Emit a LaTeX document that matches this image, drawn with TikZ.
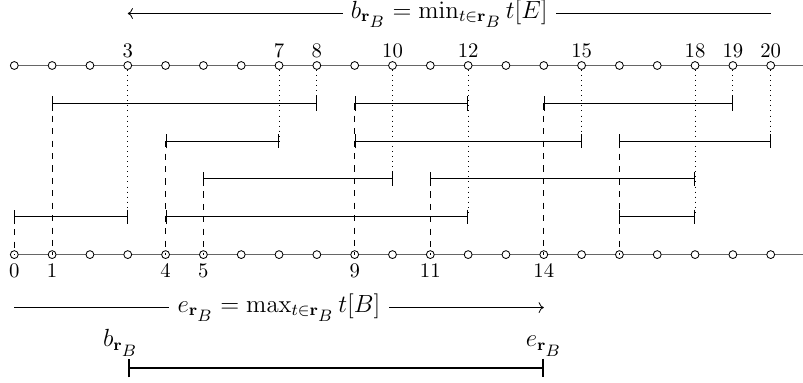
\documentclass[tikz,border=0pt]{standalone}
\usepackage{amsmath,amssymb}
\usetikzlibrary{arrows.meta}

\newcommand{\rB}{\mathbf{r}_{\scriptstyle B}}

\begin{document}
\begin{tikzpicture}[
    x=0.642cm, y=0.642cm,
    tick/.style={circle, draw, fill=white, inner sep=0pt, minimum size=3.8pt, line width=0.4pt},
    timeline/.style={draw=black!60, line width=0.8pt},
    span/.style={{Bar[width=7pt]}-{Bar[width=7pt]}, line width=0.45pt},
    drop/.style={dashed, line width=0.45pt},
    rise/.style={dotted, line width=0.45pt},
    numtop/.style={anchor=south, inner sep=1.5pt},
    numbot/.style={anchor=north, inner sep=2pt},
    bound/.style={anchor=south, inner sep=1pt, font=\large},
    rule/.style={fill=white, inner sep=4pt, font=\large},
    >=To
]
\useasboundingbox (-0.378,1.732) rectangle (20.854,-8.369);

% Time lines (top and bottom)
\coordinate (tl) at (0,0);
\coordinate (tr) at (20.9,0);
\coordinate (bl) at (0,-5);
\coordinate (br) at (20.9,-5);
\draw[timeline] (tl) -- (tr);
\draw[timeline] (bl) -- (br);

\foreach \i in {0,...,20} {
    \node[tick] (t\i) at (\i,0) {};
    \node[tick] (b\i) at (\i,-5) {};
}

% Time labels
\foreach \i in {3,7,8,10,12,15,18,19,20}
    \node[numtop] (lt\i) at (t\i.north) {\i};
\foreach \i in {0,1,4,5,9,11,14}
    \node[numbot] (lb\i) at (b\i.south) {\i};

% Intervals (begin/end/row)
\foreach \a/\b/\r [count=\i] in {1/8/1, 9/12/1, 14/19/1,
                                 4/7/2, 9/15/2, 16/20/2,
                                 5/10/3, 11/18/3,
                                 0/3/4, 4/12/4, 16/18/4} {
    \coordinate (s\i) at (\a,-\r);
    \coordinate (e\i) at (\b,-\r);
    \draw[span] (s\i) -- (e\i);
}

% Begin times down to the bottom line
\foreach \i/\x in {9/0, 1/1, 4/4, 7/5, 2/9, 8/11, 3/14, 6/16}
    \draw[drop] (s\i) -- (b\x.center);

% End times up to the top line
\foreach \i/\x in {9/3, 4/7, 1/8, 7/10, 10/12, 5/15, 11/18, 3/19, 6/20}
    \draw[rise] (t\x) -- (e\i);

% Min / max arrows
\coordinate (minl) at (3,1.375);
\coordinate (minr) at (20,1.375);
\draw[<-] (minl) -- node[rule] (bdef)
    {$b_{\rB} = \min_{t\in\rB} t[E]$} (minr);

\coordinate (maxl) at (0,-6.4);
\coordinate (maxr) at (14,-6.4);
\draw[->] (maxl) -- node[rule] (edef)
    {$e_{\rB} = \max_{t\in\rB} t[B]$} (maxr);

% Resulting range
\coordinate (rb) at (3,-8);
\coordinate (re) at (14,-8);
\draw[line width=1pt, {Bar[width=9pt]}-{Bar[width=9pt]}] (rb) -- (re);
\node[bound] (lrb) at ([xshift=-3.5pt, yshift=4.5pt]rb) {$b_{\rB}$};
\node[bound] (lre) at ([yshift=4.5pt]re) {$e_{\rB}$};

\end{tikzpicture}
\end{document}
